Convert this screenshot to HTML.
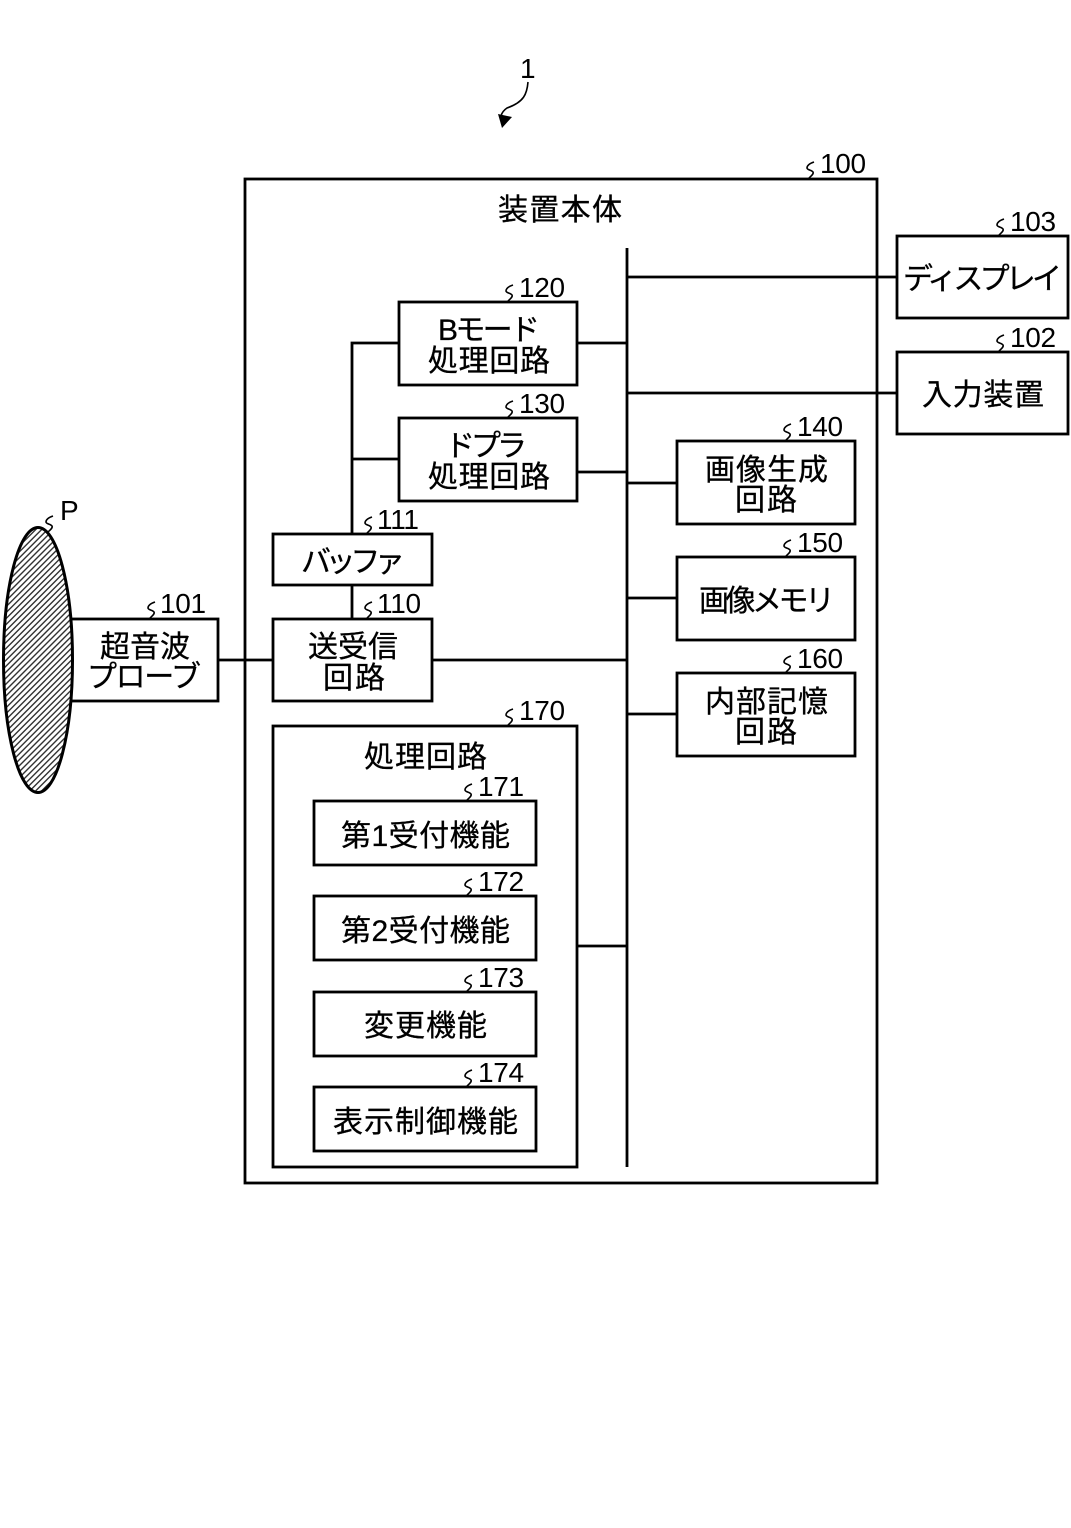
<!DOCTYPE html>
<html><head><meta charset="utf-8"><style>
html,body{margin:0;padding:0;background:#fff}
svg{display:block}
text{font-family:"Liberation Sans","Noto Sans CJK JP",sans-serif;fill:#000}
.t{font-size:30px;stroke:#000;stroke-width:.3px}
.n{font-size:28px;letter-spacing:-.3px}
</style></head><body>
<svg width="1071" height="1528" viewBox="0 0 1071 1528" xmlns="http://www.w3.org/2000/svg">
<defs>
<pattern id="h" width="4.2" height="4.2" patternUnits="userSpaceOnUse" patternTransform="rotate(-45)">
<rect width="4.2" height="4.2" fill="#fff"/><rect width="4.2" height="1.4" fill="#333"/>
</pattern>
<path id="s" d="M0 0C2-2 5-4 4-6C3-8-2-8-2-10C-2-13 2-15 5-16" fill="none" stroke="#000" stroke-width="1.6"/>
</defs>
<g fill="#fff" stroke="#000" stroke-width="2.8">
<rect x="245" y="179" width="632" height="1004"/>
<rect x="897" y="236" width="171" height="82"/>
<rect x="897" y="352" width="171" height="82"/>
<rect x="399" y="302" width="178" height="83"/>
<rect x="399" y="418" width="178" height="83"/>
<rect x="677" y="441" width="178" height="83"/>
<rect x="677" y="557" width="178" height="83"/>
<rect x="677" y="673" width="178" height="83"/>
<rect x="273" y="534" width="159" height="51"/>
<rect x="273" y="619" width="159" height="82"/>
<rect x="60" y="619" width="158" height="82"/>
<rect x="273" y="726" width="304" height="441"/>
<rect x="314" y="801" width="222" height="64"/>
<rect x="314" y="896" width="222" height="64"/>
<rect x="314" y="992" width="222" height="64"/>
<rect x="314" y="1087" width="222" height="64"/>
</g>
<path d="M627 248V1167M627 277H897M627 393H897M577 343H627M577 472H627M627 483H677M627 598H677M627 714H677M432 660H627M577 946H627M218 660H273M352 534V343H399M352 459H399M352 585V619" fill="none" stroke="#000" stroke-width="2.8"/>
<ellipse cx="38" cy="660" rx="34.5" ry="132.5" fill="url(#h)" stroke="#000" stroke-width="3"/>
<path d="M528 82c-1 12-4 20-21 26c-3 2-5 4-6 8" fill="none" stroke="#000" stroke-width="1.6"/>
<path d="M498 114L512 117L502 128Z" fill="#000"/>
<path d="M48 532C50 530 53 528 52 526C51 524 46 524 46 522C46 519 50 517 53 516" fill="none" stroke="#000" stroke-width="1.6"/>
<use href="#s" x="809" y="178"/><use href="#s" x="999" y="235"/><use href="#s" x="999" y="351"/>
<use href="#s" x="508" y="301"/><use href="#s" x="508" y="417"/>
<use href="#s" x="786" y="440"/><use href="#s" x="786" y="556"/><use href="#s" x="786" y="672"/>
<use href="#s" x="367" y="533"/><use href="#s" x="367" y="618"/><use href="#s" x="150" y="618"/>
<use href="#s" x="508" y="725"/>
<use href="#s" x="467" y="800"/><use href="#s" x="467" y="895"/><use href="#s" x="467" y="991"/><use href="#s" x="467" y="1086"/>
<g class="n">
<text x="520" y="78">1</text>
<text x="820" y="173">100</text>
<text x="1010" y="231">103</text>
<text x="1010" y="347">102</text>
<text x="519" y="297">120</text>
<text x="519" y="413">130</text>
<text x="797" y="436">140</text>
<text x="797" y="552">150</text>
<text x="797" y="668">160</text>
<text x="377" y="529">111</text>
<text x="377" y="613">110</text>
<text x="160" y="613">101</text>
<text x="519" y="720">170</text>
<text x="478" y="796">171</text>
<text x="478" y="891">172</text>
<text x="478" y="987">173</text>
<text x="478" y="1082">174</text>
<text x="60" y="520">P</text>
</g>
<g class="t">
<text x="498" y="220" textLength="124">装置本体</text>
<text x="903" y="289" textLength="159">ディスプレイ</text>
<text x="922" y="405" textLength="122">入力装置</text>
<text x="438" y="340" textLength="102">Bモード</text>
<text x="428" y="371" textLength="122">処理回路</text>
<text x="445" y="456" textLength="82">ドプラ</text>
<text x="428" y="487" textLength="122">処理回路</text>
<text x="705" y="480" textLength="123">画像生成</text>
<text x="735" y="510" textLength="62">回路</text>
<text x="699" y="611" textLength="136">画像メモリ</text>
<text x="705" y="712" textLength="123">内部記憶</text>
<text x="735" y="742" textLength="62">回路</text>
<text x="301" y="572" textLength="104">バッファ</text>
<text x="308" y="657" textLength="90">送受信</text>
<text x="323" y="688" textLength="62">回路</text>
<text x="100" y="657" textLength="90">超音波</text>
<text x="87" y="687" textLength="114">プローブ</text>
<text x="364" y="767" textLength="123">処理回路</text>
<text x="341" y="846" textLength="169">第1受付機能</text>
<text x="341" y="941" textLength="169">第2受付機能</text>
<text x="364" y="1036" textLength="123">変更機能</text>
<text x="333" y="1132" textLength="185">表示制御機能</text>
</g>
</svg>
</body></html>
